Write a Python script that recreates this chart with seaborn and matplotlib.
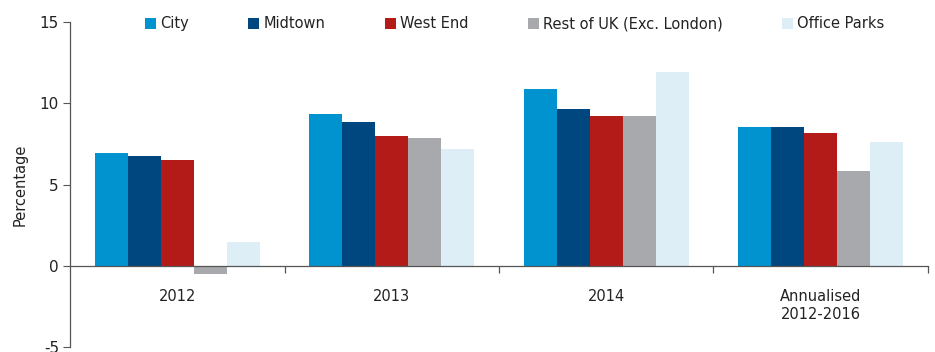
import matplotlib
matplotlib.use("Agg")
import matplotlib.pyplot as plt
import seaborn as sns
import pandas as pd
from matplotlib.ticker import FixedLocator

categories = ["2012", "2013", "2014", "Annualised\n2012-2016"]
series = ["City", "Midtown", "West End", "Rest of UK (Exc. London)", "Office Parks"]
city = [6.93, 9.36, 10.86, 8.54]
midtown = [6.78, 8.83, 9.63, 8.54]
west_end = [6.51, 7.99, 9.22, 8.15]
rest_uk = [-0.51, 7.87, 9.22, 5.84]
office_parks = [1.49, 7.19, 11.92, 7.60]
colors = ["#0093D0", "#00467F", "#B31B19", "#A8A9AD", "#DDEEF7"]

values = [city, midtown, west_end, rest_uk, office_parks]
rows = []
for s, vals in zip(series, values):
    for c, v in zip(categories, vals):
        rows.append({"Category": c, "Series": s, "Value": v})
df = pd.DataFrame(rows)

sns.set_style("white")
plt.rcParams["font.family"] = ["DejaVu Sans"]
plt.rcParams["axes.unicode_minus"] = False

fig = plt.figure(figsize=(9.35, 3.52), dpi=100)
ax = fig.add_axes([0.0749, 0.0142, 0.9176, 0.9233])

sns.barplot(data=df, x="Category", y="Value", hue="Series", order=categories,
            hue_order=series, palette=colors, width=0.77, gap=0, saturation=1,
            linewidth=0, ax=ax, legend=True)

ax.set_xlim(-0.5, 3.5)
ax.set_ylim(-5, 15)
ax.set_yticks([-5, 0, 5, 10, 15])
ax.tick_params(axis="y", direction="out", length=5, width=0.8, color="#555555",
               labelsize=11, labelcolor="#222222", pad=3, left=True)
ax.set_ylabel("Percentage", fontsize=10.5, color="#222222", labelpad=9)
ax.set_xlabel("")

for s in ["top", "right"]:
    ax.spines[s].set_visible(False)
ax.spines["left"].set_color("#555555")
ax.spines["left"].set_linewidth(0.9)
ax.spines["bottom"].set_position(("data", 0))
ax.spines["bottom"].set_color("#555555")
ax.spines["bottom"].set_linewidth(0.9)

ax.xaxis.set_minor_locator(FixedLocator([0.5, 1.5, 2.5, 3.5]))
ax.tick_params(axis="x", which="major", length=0, pad=17, labelsize=10.5,
               labelcolor="#222222", bottom=True)
ax.tick_params(axis="x", which="minor", direction="out", length=5, width=0.9,
               color="#555555", bottom=True)

handles, labels = ax.get_legend_handles_labels()
leg = ax.legend(handles, labels, ncol=5, loc="center left",
                bbox_to_anchor=(0.0805, 0.994), frameon=False, fontsize=10.5,
                handlelength=0.75, handleheight=0.75, handletextpad=0.27,
                columnspacing=4.1, borderaxespad=0, borderpad=0.4)
for t in leg.get_texts():
    t.set_color("#222222")

fig.savefig("out.png", dpi=100)
